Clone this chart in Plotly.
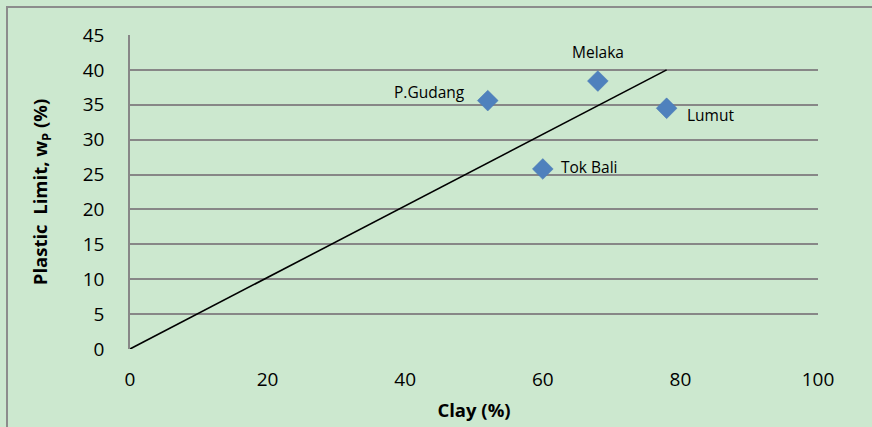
import plotly.graph_objects as go

# Soil samples: clay content vs plastic limit
sites = ["P.Gudang", "Tok Bali", "Melaka", "Lumut"]
clay = [52, 60, 68, 78]
plastic_limit = [35.6, 25.8, 38.4, 34.5]

# Reference line
line_clay = [0, 78]
line_wp = [0, 40]

x_ticks = [0, 20, 40, 60, 80, 100]
y_ticks = [0, 5, 10, 15, 20, 25, 30, 35, 40, 45]

# label offsets (pixels) for each site label
label_shift = {
    "P.Gudang": (-58, 9),
    "Tok Bali": (46, 2),
    "Melaka": (0, 29),
    "Lumut": (44, -7),
}

BG = "#cce8cf"
GRID = "#878787"
FONT = "Open Sans"

fig = go.Figure()
fig.add_trace(go.Scatter(
    x=line_clay, y=line_wp, mode="lines",
    line=dict(color="black", width=1.6), hoverinfo="skip", showlegend=False,
))
fig.add_trace(go.Scatter(
    x=clay, y=plastic_limit, mode="markers",
    marker=dict(symbol="diamond", size=16, color="#4f81bd",
                line=dict(color="#4a7ab3", width=0.5)),
    showlegend=False,
))

for name, cx, wp in zip(sites, clay, plastic_limit):
    dx, dy = label_shift[name]
    fig.add_annotation(
        x=cx, y=wp, text=name, showarrow=False,
        xshift=dx, yshift=dy,
        font=dict(family=FONT, size=15.5, color="black"),
    )

W, H = 872, 427
L, R, T, B = 130, 54, 35, 78
pw, ph = W - L - R, H - T - B

# outer chart border (left and top edges visible)
fig.add_shape(
    type="rect", xref="paper", yref="paper",
    x0=(7 - L) / pw, x1=(W + 10 - L) / pw,
    y0=1 - (H + 10 - T) / ph, y1=1 - (7 - T) / ph,
    line=dict(color="#8c8c8c", width=2), fillcolor="rgba(0,0,0,0)", layer="below",
)

fig.update_layout(
    width=W, height=H,
    margin=dict(l=L, r=R, t=T, b=B),
    paper_bgcolor=BG, plot_bgcolor=BG,
    font=dict(family=FONT, color="black"),
    xaxis=dict(
        range=[0, 100], tickvals=x_ticks, showgrid=False, zeroline=False,
        showline=False, ticks="", ticklabelstandoff=17, automargin=False,
        tickfont=dict(size=19),
        title=dict(text="<b>Clay (%)</b>", font=dict(size=18.5), standoff=13),
    ),
    yaxis=dict(
        range=[0, 45], tickvals=y_ticks, showgrid=True, gridcolor=GRID, gridwidth=1.6,
        zeroline=False, showline=True, linecolor=GRID, linewidth=1.6,
        ticks="", ticklabelstandoff=20, automargin=False,
        tickfont=dict(size=19),
        title=dict(text="<b>Plastic  Limit, w<sub>P</sub> (%)</b>", font=dict(size=18.5), standoff=30),
    ),
)

fig.write_html("out.html")
